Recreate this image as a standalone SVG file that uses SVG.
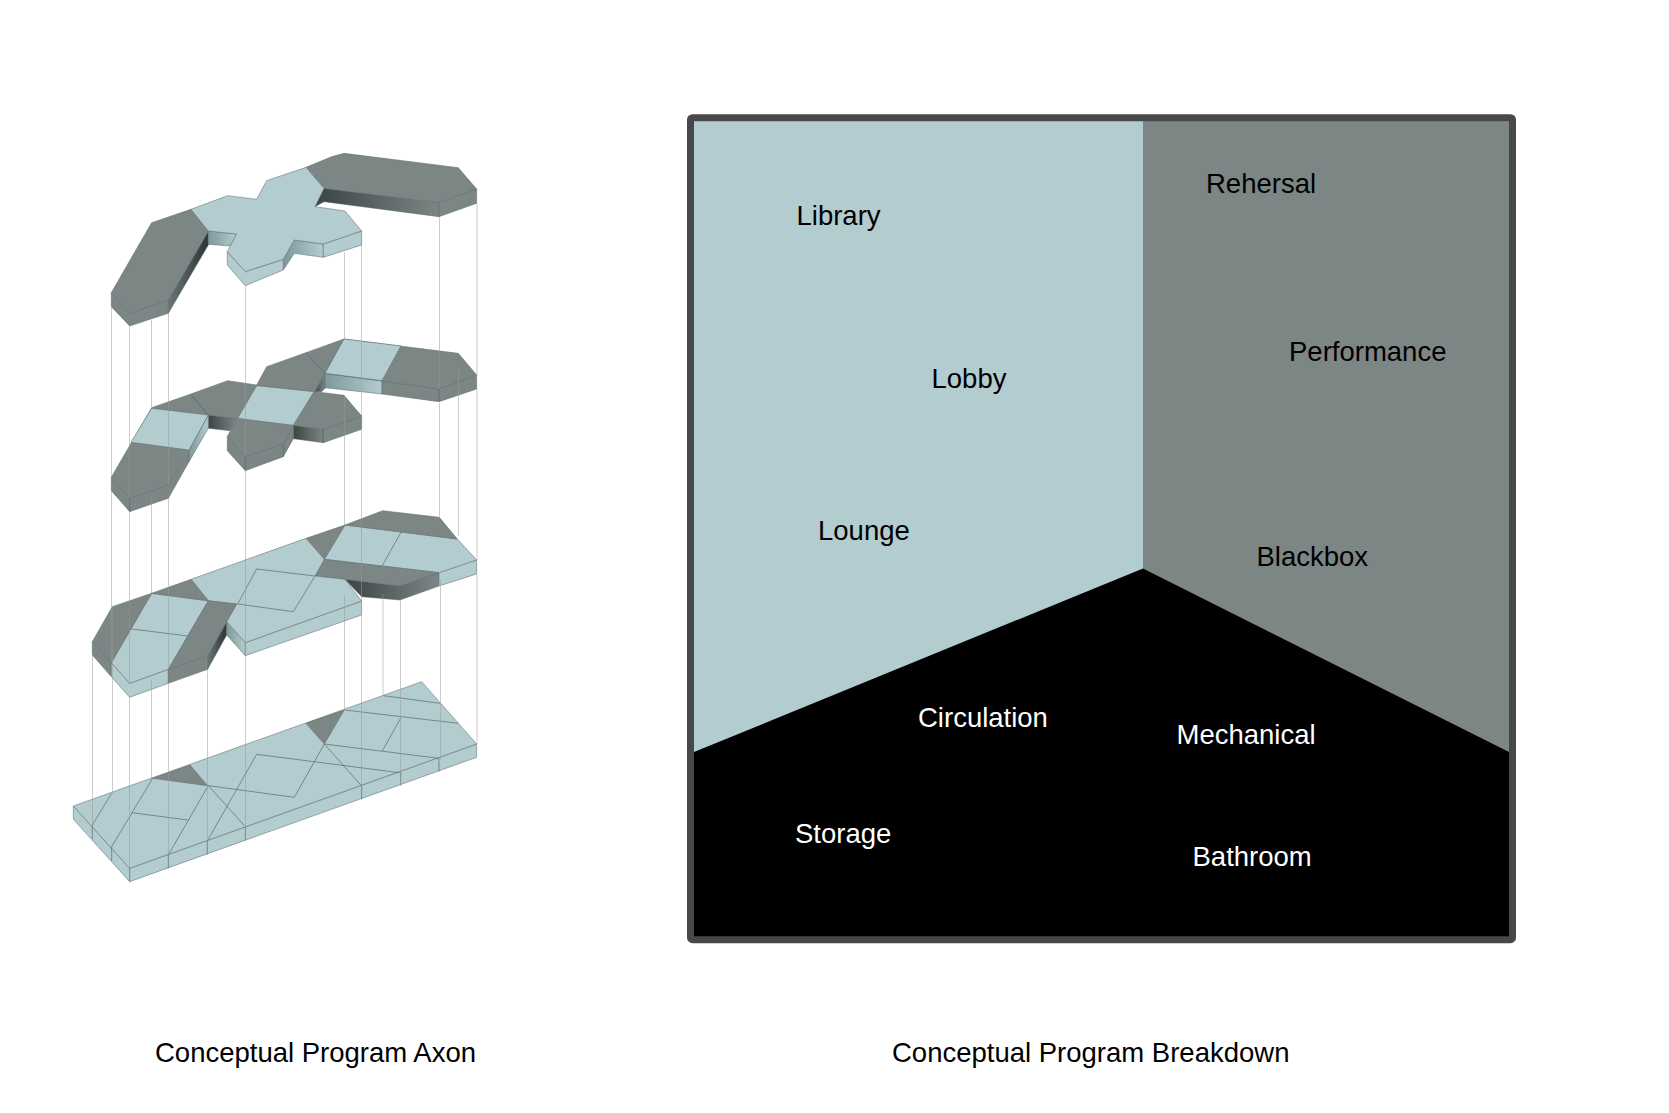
<svg xmlns="http://www.w3.org/2000/svg" width="1669" height="1113" viewBox="0 0 1669 1113">
<style>
text{font-family:"Liberation Sans",Arial,sans-serif;font-size:27.5px;fill:#000}
text.w{fill:#fff}
.l{fill:#b3cccf}.g{fill:#7c8684}
.f polygon{stroke:#5c6a6b;stroke-width:1.6;stroke-linejoin:round}
.f polyline{fill:none;stroke:#54666a;stroke-width:2}
.ld{fill:url(#ls)}.gd{fill:url(#gs)}.gr{fill:url(#gr)}
#connectors line{stroke:#9a9a9a;stroke-width:1;stroke-opacity:.5}
</style>
<defs>
<linearGradient id="ls"><stop offset="0" stop-color="#7d999c"/><stop offset="1" stop-color="#b3cccf"/></linearGradient>
<linearGradient id="gs"><stop offset="0" stop-color="#3a4444"/><stop offset="1" stop-color="#7c8684"/></linearGradient>
<linearGradient id="gr" x1="1" x2="0"><stop offset="0" stop-color="#2c3434"/><stop offset="1" stop-color="#6a7574"/></linearGradient>
</defs>
<rect width="1669" height="1113" fill="#fff"/>

<g id="floor-4" class="f" transform="translate(60,670) scale(.3333)">
<polygon class="l" points="40,408 209,595 1250,222 1250,262 209,635 40,448"/>
<polygon class="l" points="40,408 1085,35 1250,222 209,595"/>
<polygon class="g" points="278,325 390,285 443,347"/>
<polygon class="g" points="738,160 853,120 793,222"/>
<polyline points="278,325 155,530"/><polyline points="97,465 155,370"/>
<polyline points="215,428 383,450"/><polyline points="445,347 325,555"/>
<polyline points="445,347 556,470"/><polyline points="445,347 703,382"/>
<polyline points="590,253 442,513"/><polyline points="590,253 1018,308"/>
<polyline points="793,222 703,382"/><polyline points="793,222 905,348"/>
<polyline points="793,222 1137,265"/><polyline points="853,120 1195,160"/>
<polyline points="970,77 1140,100"/><polyline points="1023,143 967,243"/>
<polyline points="97,465 97,507"/><polyline points="155,530 155,572"/><polyline points="209,595 209,635"/>
<polyline points="325,553 325,595"/><polyline points="442,513 442,553"/><polyline points="556,472 556,512"/>
<polyline points="905,348 905,388"/><polyline points="1022,306 1022,346"/><polyline points="1137,265 1137,305"/>
</g>

<g id="floor-3" class="f" transform="translate(60,500) scale(.3333)">
<polygon class="gd" points="855,238 905,290 1020,300 1137,258 1137,218 1020,258"/>
<polygon class="l" points="1137,218 1250,180 1250,222 1137,258"/>
<polygon class="l" points="855,75 1192,117 1250,180 1137,218 793,178"/>
<polygon class="g" points="855,75 968,32 1138,52 1192,117"/>
<polygon class="g" points="793,178 1137,218 1020,258 855,238 765,228"/>
<polygon class="g" points="738,115 855,75 793,178"/>
<polygon class="g" points="97,425 154,488 154,530 97,465"/>
<polygon class="l" points="154,488 209,550 325,508 325,550 209,592 154,530"/>
<polygon class="g" points="325,508 443,467 443,508 325,550"/>
<polygon class="gr" points="443,467 500,365 500,405 443,508"/>
<polygon class="ld" points="500,365 556,428 556,467 500,405"/>
<polygon class="l" points="556,428 905,303 905,345 556,467"/>
<polygon class="l" points="393,238 738,115 793,178 765,228 855,238 905,303 556,428 500,365 530,312 445,303"/>
<polygon class="l" points="275,280 445,303 325,508 209,550 154,488"/>
<polygon class="g" points="97,425 157,320 275,280 154,488"/>
<polygon class="g" points="275,280 393,238 445,302"/>
<polygon class="g" points="445,302 530,312 500,365 443,467 325,508"/>
<polyline points="215,387 383,408"/>
<polyline points="590,207 533,312 700,335 765,228 590,207"/>
<polyline points="1023,97 967,197"/>
</g>

<g id="floor-2" class="f" transform="translate(60,320) scale(.3333)">
<polygon class="gd" points="445,285 530,296 510,332 445,325"/>
<polygon class="gd" points="762,215 795,160 795,205 785,215"/>
<polygon class="ld" points="795,160 966,182 966,222 795,203"/>
<polygon class="g" points="966,182 1137,207 1250,165 1250,207 1137,245 966,222"/>
<polygon class="gd" points="700,316 790,328 790,368 700,356"/>
<polygon class="g" points="790,328 905,288 905,328 790,368"/>
<polygon class="g" points="154,472 209,535 325,495 387,390 387,425 325,535 209,575 154,512"/>
<polygon class="ld" points="445,285 387,390 387,425 445,325"/>
<polygon class="g" points="502,350 556,410 670,372 700,316 700,356 670,410 556,452 502,392"/>
<polygon class="g" points="393,222 503,182 590,195 620,140 738,98 852,57 795,160 765,215 852,226 905,288 790,328 700,316 670,372 556,410 502,350 530,296 445,285"/>
<polygon class="g" points="852,57 1195,100 1250,165 1137,207 795,160"/>
<polygon class="g" points="154,472 275,263 393,222 445,285 325,495 209,535"/>
<polygon class="l" points="275,265 445,285 387,390 213,367"/>
<polygon class="l" points="590,197 762,215 700,316 533,295"/>
<polygon class="l" points="852,57 1023,78 966,182 795,160"/>
<polyline points="393,225 445,285"/><polyline points="738,98 795,160"/>
<polyline points="209,535 209,575"/><polyline points="556,410 556,452"/><polyline points="670,372 670,410"/><polyline points="790,328 790,368"/><polyline points="1137,207 1137,245"/>
</g>

<g id="floor-1" class="f" transform="translate(60,130) scale(.3333)">
<polygon class="gd" points="792,175 1137,218 1137,260 792,215 765,230"/>
<polygon class="g" points="1137,218 1250,177 1250,220 1137,260"/>
<polygon class="g" points="738,112 815,80 852,70 1195,113 1250,177 1137,218 792,175"/>
<polygon class="gr" points="445,303 325,510 325,550 445,345"/>
<polygon class="g" points="154,488 209,550 325,510 325,550 209,588 154,530"/>
<polygon class="g" points="154,488 275,278 393,238 445,303 325,510 209,550"/>
<polygon class="ld" points="445,303 530,312 510,348 445,343"/>
<polygon class="ld" points="703,330 790,342 790,382 703,370 670,420 670,388"/>
<polygon class="l" points="790,342 905,303 905,345 790,382"/>
<polygon class="l" points="502,365 556,425 670,388 670,420 556,467 502,405"/>
<polygon class="l" points="393,238 503,197 590,208 620,152 738,112 792,175 765,230 855,243 905,303 790,342 703,330 670,388 556,425 502,365 530,312 445,303"/>
</g>

<g id="connectors">
<line x1="111.5" y1="306" x2="111.5" y2="477"/>
<line x1="129.5" y1="326" x2="129.5" y2="498"/>
<line x1="151.5" y1="320" x2="151.5" y2="408"/>
<line x1="168.5" y1="313" x2="168.5" y2="485"/>
<line x1="245.5" y1="286" x2="245.5" y2="457"/>
<line x1="344.5" y1="252" x2="344.5" y2="339"/>
<line x1="361.5" y1="245" x2="361.5" y2="416"/>
<line x1="439.5" y1="217" x2="439.5" y2="389"/>
<line x1="477" y1="203" x2="477" y2="375"/>
<line x1="111.5" y1="491" x2="111.5" y2="662"/>
<line x1="129.5" y1="512" x2="129.5" y2="683"/>
<line x1="151.5" y1="498" x2="151.5" y2="593"/>
<line x1="168.5" y1="498" x2="168.5" y2="669"/>
<line x1="245.5" y1="470" x2="245.5" y2="643"/>
<line x1="344.5" y1="395" x2="344.5" y2="525"/>
<line x1="361.5" y1="430" x2="361.5" y2="601"/>
<line x1="439.5" y1="403" x2="439.5" y2="517"/>
<line x1="458.5" y1="368" x2="458.5" y2="536"/>
<line x1="477" y1="389" x2="477" y2="560"/>
<line x1="92.5" y1="655" x2="92.5" y2="826"/>
<line x1="112.5" y1="606" x2="112.5" y2="793"/>
<line x1="129.5" y1="697" x2="129.5" y2="868"/>
<line x1="151.5" y1="680" x2="151.5" y2="780"/>
<line x1="168.5" y1="683" x2="168.5" y2="855"/>
<line x1="207.5" y1="669" x2="207.5" y2="841"/>
<line x1="245.5" y1="655" x2="245.5" y2="827"/>
<line x1="344.5" y1="595" x2="344.5" y2="711"/>
<line x1="361.5" y1="615" x2="361.5" y2="786"/>
<line x1="383" y1="594" x2="383" y2="696"/>
<line x1="400.5" y1="600" x2="400.5" y2="786"/>
<line x1="440.5" y1="580" x2="440.5" y2="760"/>
<line x1="477" y1="574" x2="477" y2="744"/>
</g>

<g id="breakdown">
<rect x="690.5" y="117.5" width="822" height="822" fill="#000"/>
<polygon class="l" points="694,121 1143,121 1143,568.5 694,752"/>
<polygon fill="#7c8684" points="1143,121 1509,121 1509,752 1143,568.5"/>
<rect x="690.5" y="117.7" width="822" height="822" fill="none" stroke="#484848" stroke-width="7" rx="2"/>
</g>

<g id="labels">
<text x="796.5" y="225">Library</text>
<text x="1206" y="193">Rehersal</text>
<text x="1289" y="361">Performance</text>
<text x="931.5" y="388">Lobby</text>
<text x="818" y="540">Lounge</text>
<text x="1256.5" y="566">Blackbox</text>
<text class="w" x="918" y="727">Circulation</text>
<text class="w" x="1176.5" y="744">Mechanical</text>
<text class="w" x="795" y="843">Storage</text>
<text class="w" x="1192.5" y="866">Bathroom</text>
<text x="155" y="1062">Conceptual Program Axon</text>
<text x="892" y="1062">Conceptual Program Breakdown</text>
</g>
</svg>
